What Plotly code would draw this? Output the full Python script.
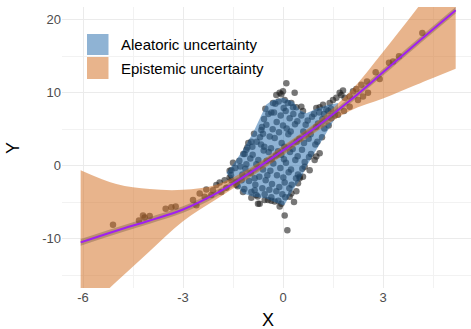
import plotly.graph_objects as go

# ---- data ----
# mean prediction curve
curve_x = [-6.07, -5.0, -4.0, -3.0, -2.0, -1.0, 0.0, 1.0, 2.0, 3.0, 4.0, 5.18]
curve_y = [-10.5, -8.9, -7.5, -6.0, -3.8, -1.0, 2.1, 5.3, 8.9, 12.8, 16.75, 21.3]
# epistemic band edges (same x as curve)
epi_upper = [-0.6, -2.5, -3.2, -3.3, -2.6, -0.35, 2.75, 5.95, 10.1, 15.6, 21.4, 28.5]
epi_lower = [-20.5, -15.9, -11.7, -7.6, -4.6, -1.65, 1.45, 4.65, 7.5, 9.2, 11.1, 13.3]
# narrow band around the curve
narrow_half = 0.45
# aleatoric band
ale_x = [-1.7, -1.4, -1.2, -0.9, -0.5, -0.3, 0.0, 0.05, 0.3, 0.5, 0.7, 1.0, 1.3, 1.65]
ale_upper = [-1.0, 0.8, 2.2, 4.5, 8.4, 9.0, 9.3, 9.2, 8.8, 7.6, 7.2, 7.8, 8.3, 8.6]
ale_lower = [-1.0, -2.6, -3.8, -4.2, -4.5, -4.9, -5.4, -5.3, -3.3, -2.0, -0.1, 2.2, 4.6, 7.2]

# observed points (outer points, then the dense central cloud)
pt_x = [
    -5.1, -4.32, -4.2, -4.15, -4.0, -3.52, -3.35, -3.22, -2.7, -2.6, -2.5, -2.35, -2.3, -2.15, -2.1, -2.0,
    -1.9, -1.85, -1.75, -1.7, -1.6, -1.55, -1.55,
    1.5, 1.6, 1.7, 1.75, 1.8, 1.85, 2.0, 2.1, 2.2, 2.35, 2.52, 2.78, 3.18, 3.3, 3.48, 4.18, 2.4, 2.55,
    2.25, 2.0, 1.83, 1.65, 2.9,
    0.1, -0.1, -0.05, -0.2, 0.0, 0.05, 0.35, 0.25, 0.3, 0.55, 0.6, 1.0, 1.2, 1.3, -0.3, -0.35, -0.65,
    -0.6, -0.95, -1.1, -1.15, 1.4, 1.1,
    1.0, 0.95, 0.8, 0.6, 0.5, 1.1,
    0.05, 0.13, 0.33, 0.2, 0.25, 0.45, 0.5, 0.65, -1.2, -0.85, -0.8, -0.95, -0.75, -0.7, -0.55, -0.45,
    -0.35, -0.25, -0.1, -0.05, -1.4, 0.4,
    -1.56, -1.43, -1.5, -1.38, -1.6,
    -1.36, -1.22, -1.31, -1.19, -1.28, -1.24,
    -1.16, -1.02, -1.13, -0.98, -1.07, -1.04, -1.1,
    -0.95, -0.83, -0.97, -0.8, -0.91, -0.79, -0.87, -0.85, -0.92,
    -0.76, -0.62, -0.71, -0.6, -0.74, -0.58, -0.69, -0.63, -0.57, -0.66,
    -0.55, -0.41, -0.52, -0.38, -0.49, -0.43, -0.56, -0.4, -0.5, -0.44, -0.53, -0.47,
    -0.35, -0.2, -0.33, -0.18, -0.29, -0.21, -0.36, -0.25, -0.31, -0.19, -0.27, -0.23, -0.34,
    -0.14, -0.02, -0.11, 0.01, -0.08, 0.03, -0.15, -0.04, -0.12, 0.0, -0.07, 0.02, -0.13, -0.05,
    0.07, 0.19, 0.05, 0.17, 0.09, 0.21, 0.04, 0.16, 0.11, 0.2, 0.08, 0.14,
    0.26, 0.39, 0.24, 0.37, 0.29, 0.41, 0.23, 0.36, 0.31, 0.4,
    0.45, 0.58, 0.44, 0.57, 0.49, 0.61, 0.43, 0.55,
    0.65, 0.78, 0.63, 0.77, 0.68, 0.74,
    0.84, 0.97, 0.83, 0.99, 0.87, 0.93,
    1.03, 1.17, 1.05, 1.18, 1.09,
    1.24, 1.37, 1.23, 1.36,
    1.45, 1.55, 1.44,
]
pt_y = [
    -8.1, -7.5, -6.8, -7.1, -6.9, -5.9, -5.7, -5.6, -4.7, -5.4, -3.8, -4.25, -3.25, -4.0, -3.35, -2.65,
    -2.3, -3.6, -2.0, -3.0, -1.6, -2.0, -0.6,
    9.0, 9.3, 10.0, 9.7, 10.3, 9.3, 9.5, 10.2, 10.5, 11.1, 11.55, 12.8, 14.1, 14.3, 15.0, 18.2, 9.5, 10.0,
    9.0, 8.1, 7.5, 7.0, 11.9,
    11.3, 10.0, 9.8, 9.7, 10.2, 9.0, 10.0, 8.6, 8.0, 8.1, 7.5, 7.9, 8.35, 7.7, 8.6, 7.3, 4.9,
    4.4, 3.3, 2.2, 1.6, 8.6, 8.0,
    1.25, 0.8, -0.6, -1.5, -1.7, 1.7,
    -6.8, -8.85, -4.95, -4.25, -3.8, -2.4, -1.5, -0.15, -3.6, -3.35, -4.0, -4.4, -5.2, -5.2, -4.7, -4.7,
    -4.8, -4.9, -5.6, -5.2, -2.6, -3.5,
    -1.3, -0.3, 0.4, -2.2, -0.7,
    -2.8, -1.2, 0.7, 1.6, -0.1, -2.0,
    -3.2, -2.1, -0.4, 1.0, 2.5, 3.1, 0.2,
    -3.6, -2.6, -1.0, 0.2, 1.5, 3.3, 4.4, -1.7, 2.6,
    -4.2, -3.1, -1.5, -0.5, 0.8, 2.1, 3.9, 5.3, 6.4, 2.9,
    -3.9, -3.3, -2.0, -0.7, 0.7, 1.9, 2.6, 4.0, 5.6, 7.1, 7.8, -1.3,
    -4.3, -3.5, -2.5, -1.3, 0.3, 1.4, 2.4, 3.8, 5.0, 6.0, 7.3, 8.5, 0.9,
    -4.8, -3.9, -2.9, -1.6, -0.3, 0.9, 2.0, 3.1, 4.6, 5.5, 6.9, 7.9, 8.8, 1.5,
    -4.3, -3.1, -2.3, -0.9, 0.4, 1.9, 2.6, 4.3, 5.1, 6.5, 7.5, 8.6,
    -2.6, -1.7, -0.5, 0.8, 2.3, 3.3, 4.7, 5.7, 7.1, 8.0,
    -1.2, -0.4, 1.3, 2.2, 3.7, 4.7, 6.1, 6.9,
    0.5, 1.2, 3.1, 3.7, 5.6, 6.2,
    1.6, 2.9, 4.3, 5.3, 6.7, 7.1,
    3.3, 3.9, 5.8, 6.4, 7.3,
    5.1, 5.5, 7.1, 7.5,
    6.5, 6.9, 7.8,
]

legend_labels = ["Aleatoric uncertainty", "Epistemic uncertainty"]
x_ticks = [-6, -3, 0, 3]
y_ticks = [-10, 0, 10, 20]

# ---- styles ----
BLUE_FILL = "rgba(31,103,169,0.5)"
ORANGE_FILL = "rgba(209,105,25,0.5)"
BLUE_KEY = "#8fb3d4"
ORANGE_KEY = "#e8b48c"
FONT = "Liberation Sans, Arial, sans-serif"

fig = go.Figure()

fig.add_trace(go.Scatter(x=pt_x, y=pt_y, mode="markers",
                         marker=dict(size=6.5, color="rgba(30,30,30,0.6)", line=dict(width=0)),
                         showlegend=False, hoverinfo="skip"))

fig.add_trace(go.Scatter(x=ale_x, y=ale_upper, mode="lines", line=dict(width=0),
                         showlegend=False, hoverinfo="skip"))
fig.add_trace(go.Scatter(x=ale_x, y=ale_lower, mode="lines", line=dict(width=0),
                         fill="tonexty", fillcolor=BLUE_FILL, showlegend=False, hoverinfo="skip"))

fig.add_trace(go.Scatter(x=curve_x, y=epi_upper, mode="lines", line=dict(width=0, shape="spline"),
                         showlegend=False, hoverinfo="skip"))
fig.add_trace(go.Scatter(x=curve_x, y=epi_lower, mode="lines", line=dict(width=0, shape="spline"),
                         fill="tonexty", fillcolor=ORANGE_FILL, showlegend=False, hoverinfo="skip"))

fig.add_trace(go.Scatter(x=curve_x, y=[v + narrow_half for v in curve_y], mode="lines",
                         line=dict(width=0, shape="spline"), showlegend=False, hoverinfo="skip"))
fig.add_trace(go.Scatter(x=curve_x, y=[v - narrow_half for v in curve_y], mode="lines",
                         line=dict(width=0, shape="spline"), fill="tonexty",
                         fillcolor="rgba(100,75,60,0.35)", showlegend=False, hoverinfo="skip"))

fig.add_trace(go.Scatter(x=curve_x, y=curve_y, mode="lines",
                         line=dict(color="#a020f0", width=2, shape="spline"),
                         showlegend=False, hoverinfo="skip"))

W, H = 471, 329
L, R, T, B = 62, 0, 7, 41
pw, ph = W - L - R, H - T - B


def px2paper(x, y):
    return (x - L) / pw, 1 - (y - T) / ph


# legend drawn as keys + labels
keys = [(BLUE_KEY, 34, 55), (ORANGE_KEY, 57, 79)]
for i, (col, y0, y1) in enumerate(keys):
    xa, ya = px2paper(87, y0)
    xb, yb = px2paper(108.5, y1)
    fig.add_shape(type="rect", xref="paper", yref="paper", x0=xa, x1=xb, y0=yb, y1=ya,
                  fillcolor=col, line=dict(width=0), layer="above")
    tx, ty = px2paper(119, (y0 + y1) / 2)
    fig.add_annotation(xref="paper", yref="paper", x=tx, y=ty, text=legend_labels[i],
                       showarrow=False, xanchor="left", yanchor="middle",
                       font=dict(family=FONT, size=15, color="#000000"))

# axis titles
fig.add_annotation(xref="paper", yref="paper", x=(268 - L) / pw, y=1 - (320 - T) / ph, text="X",
                   showarrow=False, xanchor="center", yanchor="middle",
                   font=dict(family=FONT, size=18, color="#000000"))
fig.add_annotation(xref="paper", yref="paper", x=(13 - L) / pw, y=1 - (148 - T) / ph, text="Y",
                   textangle=-90, showarrow=False, xanchor="center", yanchor="middle",
                   font=dict(family=FONT, size=18, color="#000000"))

fig.update_layout(
    width=W, height=H,
    margin=dict(l=L, r=R, t=T, b=B, pad=0),
    paper_bgcolor="white", plot_bgcolor="white",
    showlegend=False,
    font=dict(family=FONT),
)
fig.update_xaxes(range=[-6.63, 5.64], tickvals=x_ticks, ticktext=[str(v) for v in x_ticks],
                 showgrid=True, gridcolor="#ebebeb", gridwidth=1.4, zeroline=False, showline=False,
                 ticks="", ticklen=0, tickfont=dict(family=FONT, size=13, color="#4d4d4d"),
                 automargin=False,
                 minor=dict(tickvals=[-4.5, -1.5, 1.5, 4.5], showgrid=True, gridcolor="#f2f2f2", gridwidth=0.8))
fig.update_yaxes(range=[-16.75, 21.75], tickvals=y_ticks, ticktext=[str(v) for v in y_ticks],
                 showgrid=True, gridcolor="#ebebeb", gridwidth=1.4, zeroline=False, showline=False,
                 ticks="", ticklen=0, tickfont=dict(family=FONT, size=13, color="#4d4d4d"),
                 automargin=False,
                 minor=dict(tickvals=[-15, -5, 5, 15], showgrid=True, gridcolor="#f2f2f2", gridwidth=0.8))

fig.write_html("out.html", config={"displayModeBar": False},
               post_script="document.body.style.margin='0';document.body.style.overflow='hidden';")
